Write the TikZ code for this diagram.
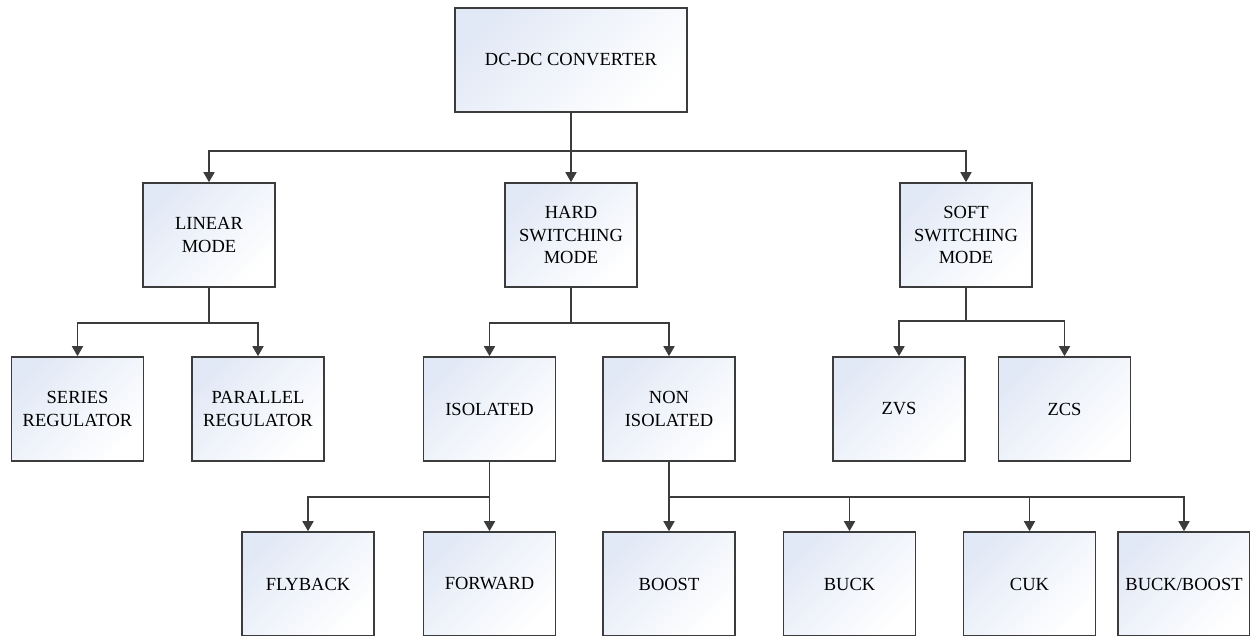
\documentclass[tikz,border=0pt]{standalone}
\usepackage{fontspec}
\setmainfont{Liberation Serif}
\usetikzlibrary{arrows.meta}
\definecolor{boxblue}{HTML}{E2E9F6}
\definecolor{linegray}{HTML}{3C3C3C}
\tikzset{
	block/.style={draw=linegray,line width=1.6pt,top color=boxblue,bottom color=white,shading angle=45,
		minimum width=132pt,minimum height=104pt,inner sep=0pt,align=center,
		font=\fontsize{18.5}{22.5}\selectfont},
	conn/.style={draw=linegray,line width=1.6pt,-{Triangle[width=11pt,length=10pt]}}
}
\begin{document}
\begin{tikzpicture}[x=1pt,y=-1pt]
		\clip (0,0) rectangle (1250,635);
		% top
		\node[block,minimum width=232pt] (conv) at (571,60) {DC-DC CONVERTER};
		% modes
		\node[block] (lin) at (209,235) {LINEAR\\MODE};
		\node[block] (hard) at (571,235) {HARD\\SWITCHING\\MODE};
		\node[block] (soft) at (966,235) {SOFT\\SWITCHING\\MODE};
		% third row
		\node[block] (series) at (77.5,409) {SERIES\\REGULATOR};
		\node[block] (parallel) at (258,409) {PARALLEL\\REGULATOR};
		\node[block] (iso) at (489.5,409) {ISOLATED};
		\node[block] (noniso) at (669,409) {NON\\ISOLATED};
		\node[block] (zvs) at (899,409) {ZVS};
		\node[block] (zcs) at (1064.5,409) {ZCS};
		% bottom row
		\node[block] (flyback) at (308,584) {FLYBACK};
		\node[block] (forward) at (489.5,584) {FORWARD};
		\node[block] (boost) at (669,584) {BOOST};
		\node[block] (buck) at (849.5,584) {BUCK};
		\node[block] (cuk) at (1029.5,584) {CUK};
		\node[block] (buckboost) at (1184,584) {BUCK/BOOST};
		\foreach \p/\c/\d in {conv/lin/38,conv/hard/38,conv/soft/38,
			lin/series/35,lin/parallel/35,hard/iso/35,hard/noniso/35,soft/zvs/33,soft/zcs/33,
			iso/flyback/35,iso/forward/35,noniso/boost/35,noniso/buck/35,noniso/cuk/35,noniso/buckboost/35}{
			\draw[conn] (\p.south) -- ++(0,\d) -| (\c.north);
		}
	\end{tikzpicture}
\end{document}
